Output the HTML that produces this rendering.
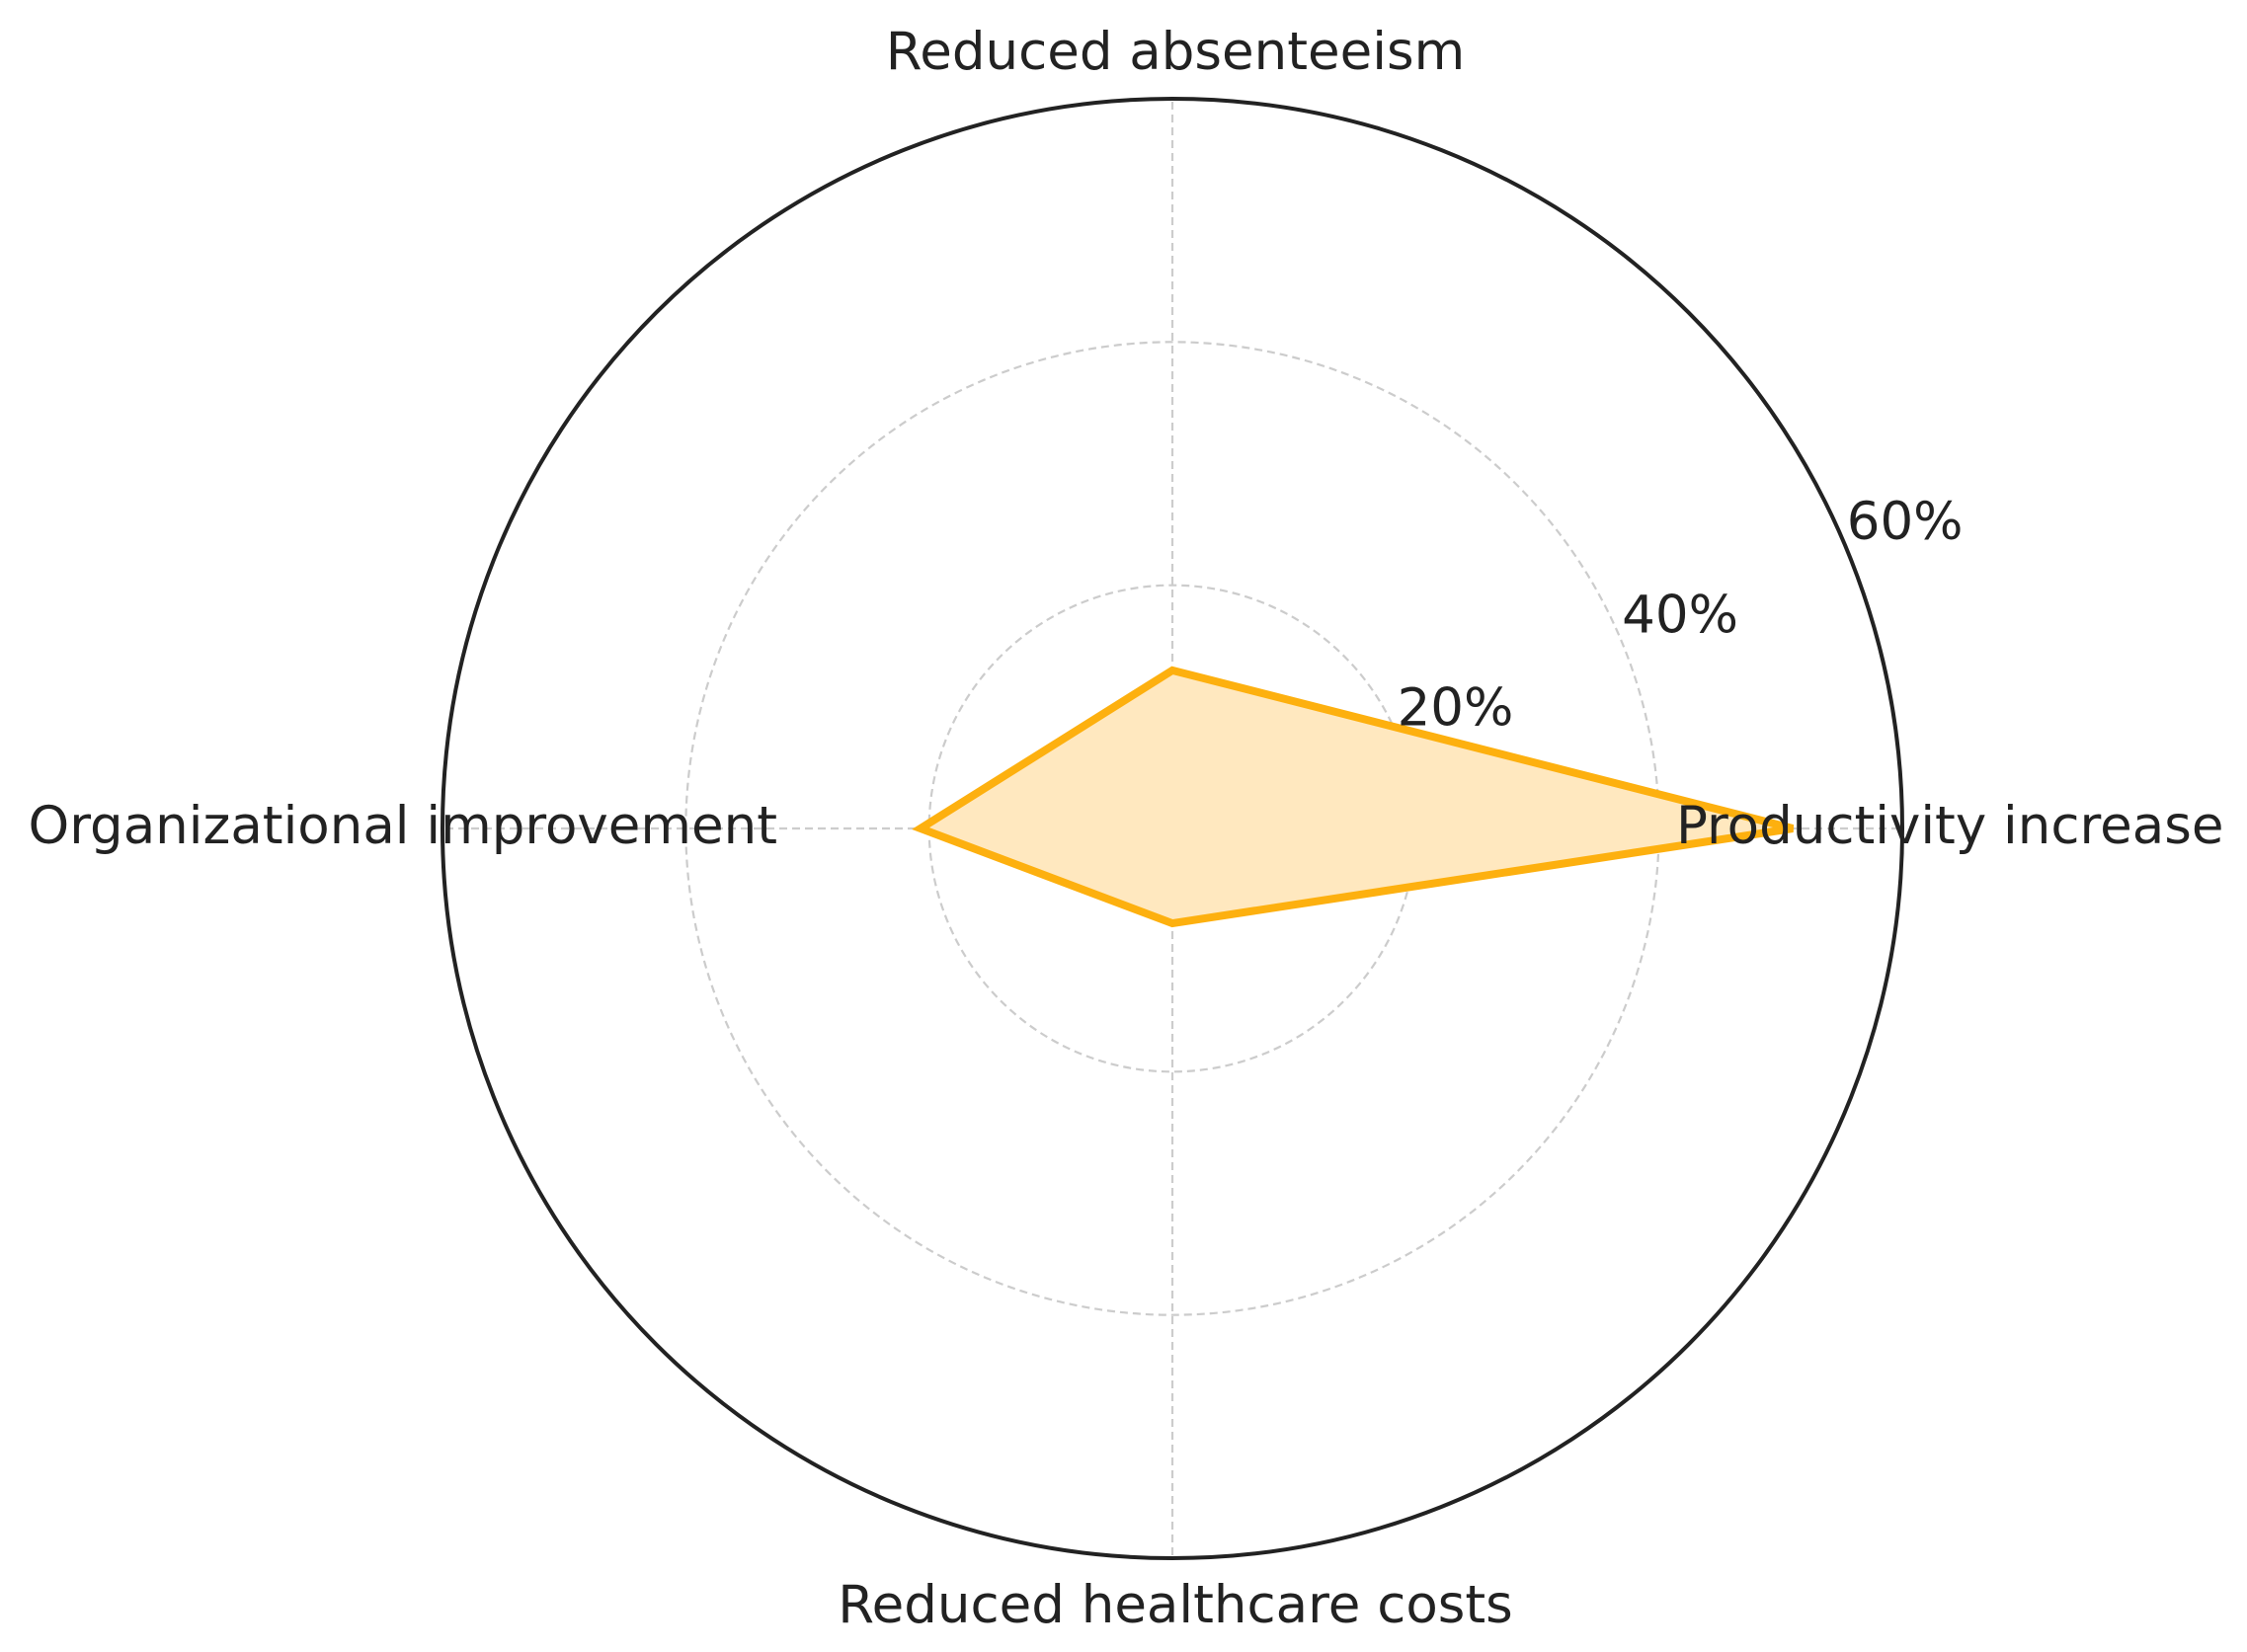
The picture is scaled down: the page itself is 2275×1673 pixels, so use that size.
<!DOCTYPE html>
<html><head><meta charset="utf-8"><style>
html,body{margin:0;padding:0;background:#fff}
svg{display:block}
text{font-family:"DejaVu Sans","Liberation Sans",sans-serif;fill:#222}
</style></head><body>
<svg id="chart" width="2275" height="1673" viewBox="0 0 2275 1673" xmlns="http://www.w3.org/2000/svg">
<g id="grid"></g>
<g id="series"></g>
<g id="labels"></g>
</svg>
<script>
const categories = ["Productivity increase","Reduced absenteeism","Organizational improvement","Reduced healthcare costs"];
const values = [51, 13, 20.7, 7.8];
const tickValues = [20, 40, 60];
const tickLabels = ["20%","40%","60%"];
const rMax = 60;

const NS = "http://www.w3.org/2000/svg";
const cx = 1187, cy = 839, R = 739;
function rad(v){ return v / rMax * R; }
function angle(i){ return i * 2 * Math.PI / categories.length; }
function pt(i, v){ const a = angle(i), r = rad(v); return [cx + r*Math.cos(a), cy - r*Math.sin(a)]; }
function mk(tag, attrs, parent){ const e = document.createElementNS(NS, tag); for (const k in attrs) e.setAttribute(k, attrs[k]); parent.appendChild(e); return e; }

const grid = document.getElementById('grid');
tickValues.forEach((t, i) => {
  if (t >= rMax) return;
  const c = mk('circle', {cx: cx, cy: cy, r: rad(t), fill: 'none', stroke: '#cccccc', 'stroke-width': 2.2, 'stroke-dasharray': '8,5'}, grid);
  
  
});
categories.forEach((c, i) => {
  const p = pt(i, rMax);
  const l = mk('line', {x1: cx, y1: cy, x2: p[0], y2: p[1], stroke: '#cccccc', 'stroke-width': 2.2, 'stroke-dasharray': '8,5'}, grid);
  
  
});

const series = document.getElementById('series');
const pts = values.map((v, i) => pt(i, v).join(',')).join(' ');
const poly = mk('polygon', {points: pts, fill: '#ffe8bf', stroke: '#fdb00f', 'stroke-width': 8, 'stroke-linejoin': 'miter'}, series);



const outer = mk('circle', {cx: cx, cy: cy, r: R, fill: 'none', stroke: '#222', 'stroke-width': 4}, series);



const labels = document.getElementById('labels');
const labelPos = [
  {x: 1697, y: 854, a: 'start'},
  {x: 1190, y: 70, a: 'middle'},
  {x: 787, y: 854, a: 'end'},
  {x: 1190, y: 1643, a: 'middle'}
];
categories.forEach((c, i) => {
  const t = mk('text', {x: labelPos[i].x, y: labelPos[i].y, 'text-anchor': labelPos[i].a, 'font-size': 53}, labels);
  t.textContent = c;
  
  
});
tickValues.forEach((tv, i) => {
  const a = 22.5 * Math.PI / 180, r = rad(tv);
  const t = mk('text', {x: cx + r*Math.cos(a), y: cy - r*Math.sin(a) - 10, 'text-anchor': 'start', 'font-size': 53}, labels);
  t.textContent = tickLabels[i];
  
  
});
</script>
</body></html>
